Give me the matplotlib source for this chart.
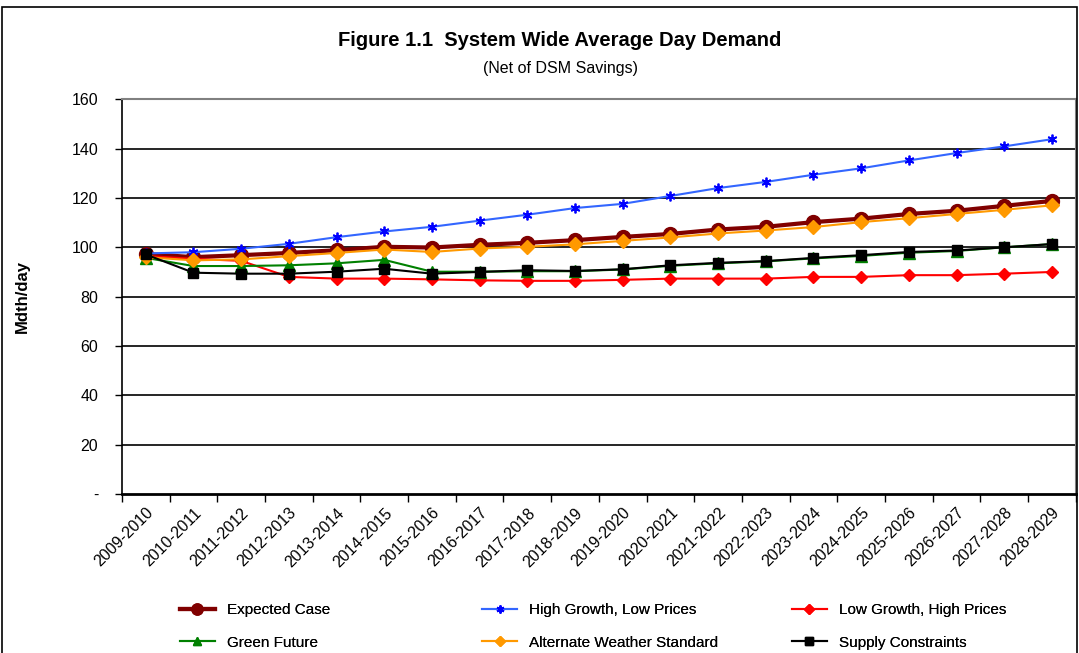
import matplotlib
matplotlib.use("Agg")
import matplotlib.pyplot as plt
import numpy as np
from matplotlib.patches import Rectangle

plt.rcParams['font.family'] = ['Liberation Sans', 'DejaVu Sans']

years = ["2009-2010", "2010-2011", "2011-2012", "2012-2013", "2013-2014", "2014-2015",
         "2015-2016", "2016-2017", "2017-2018", "2018-2019", "2019-2020", "2020-2021",
         "2021-2022", "2022-2023", "2023-2024", "2024-2025", "2025-2026", "2026-2027",
         "2027-2028", "2028-2029"]

expected = [97.3, 96.0, 96.8, 97.7, 98.8, 100.2, 99.9, 101.0, 101.8, 102.9,
            104.2, 105.4, 107.2, 108.3, 110.2, 111.6, 113.5, 114.8, 116.8, 118.8]
high_growth = [97.5, 98.0, 99.4, 101.4, 104.1, 106.4, 108.3, 110.8, 113.2, 115.9,
               117.6, 120.8, 124.0, 126.5, 129.4, 132.0, 135.2, 138.2, 140.9, 143.8]
low_growth = [96.5, 95.3, 94.5, 88.0, 87.3, 87.3, 87.0, 86.6, 86.4, 86.4,
              86.8, 87.3, 87.3, 87.3, 88.0, 88.0, 88.7, 88.7, 89.3, 90.0]
green_future = [95.7, 92.4, 92.4, 92.7, 93.5, 94.9, 90.1, 90.1, 90.3, 90.3,
                91.0, 92.5, 93.5, 94.3, 95.5, 96.5, 97.8, 98.5, 100.0, 101.3]
alt_weather = [96.0, 94.7, 95.1, 96.4, 97.7, 99.1, 98.1, 99.5, 100.2, 101.2,
               102.6, 104.0, 105.6, 106.8, 108.2, 110.2, 111.8, 113.5, 115.2, 117.0]
supply = [97.1, 89.7, 89.3, 89.3, 90.1, 91.3, 89.3, 90.0, 90.7, 90.4,
          91.1, 92.7, 93.7, 94.4, 95.7, 96.8, 98.1, 98.7, 100.0, 101.3]

fig = plt.figure(figsize=(10.79, 6.53), dpi=100)
ax = fig.add_axes([0.113, 0.2435, 0.884, 0.6045])

x = np.arange(len(years))
asterisk = (6, 2, 0)
h1, = ax.plot(x, expected, color="#800000", lw=3, marker="o", ms=10, label="Expected Case", zorder=3)
h2, = ax.plot(x, high_growth, color="#3366ff", lw=1.5, marker=asterisk, ms=7, mec="#0000ff",
              mew=1.3, label="High Growth, Low Prices", zorder=3)
h3, = ax.plot(x, low_growth, color="#ff0000", lw=1.5, marker="D", ms=6.5,
              label="Low Growth, High Prices", zorder=3)
h4, = ax.plot(x, green_future, color="#008000", lw=1.5, marker="^", ms=8, label="Green Future", zorder=3)
h5, = ax.plot(x, alt_weather, color="#ff9900", lw=1.5, marker="D", ms=7,
              label="Alternate Weather Standard", zorder=3)
h6, = ax.plot(x, supply, color="#000000", lw=1.5, marker="s", ms=7.5, label="Supply Constraints", zorder=3)

ax.set_xlim(-0.5, len(years) - 0.5)
ax.set_ylim(0, 160)
yt = np.arange(0, 161, 20)
ax.set_yticks(yt)
ax.set_yticklabels(["-"] + [str(v) for v in yt[1:]], fontsize=11.5)
for v in yt[1:-1]:
    ax.axhline(v, color="black", lw=1.2, zorder=1)

ax.set_xticks(x)
ax.set_xticklabels(years, rotation=45, ha="right", rotation_mode="anchor", fontsize=11.5)
ax.tick_params(axis="x", length=0, pad=8)
ax.set_xticks(np.arange(-0.5, len(years)), minor=True)
ax.tick_params(axis="x", which="minor", length=6, width=1)
ax.tick_params(axis="y", length=5, width=1, pad=12)

for s in ["top", "right"]:
    ax.spines[s].set_color("#808080")
    ax.spines[s].set_linewidth(1.5)
ax.spines["left"].set_linewidth(1.2)
ax.spines["bottom"].set_linewidth(2)

ax.set_ylabel("Mdth/day", fontsize=12, fontweight="bold", labelpad=30)

fig.text(0.519, 0.938, "Figure 1.1  System Wide Average Day Demand", ha="center", va="center",
         fontsize=14.5, fontweight="bold")
fig.text(0.519, 0.895, "(Net of DSM Savings)", ha="center", va="center", fontsize=11.5)

# one legend per column, positioned like the original
columns = [([h1, h4], 0.154), ([h2, h5], 0.434), ([h3, h6], 0.721)]
for handles, xpos in columns:
    leg = fig.legend(handles=handles, loc="lower left", bbox_to_anchor=(xpos, -0.016),
                     frameon=False, fontsize=11, handlelength=2.3, labelspacing=1.2,
                     markerscale=0.8)
    fig.add_artist(leg)

fig.add_artist(Rectangle((0.002, -0.01), 0.996, 1.0, transform=fig.transFigure,
                         fill=False, ec="black", lw=1.2))

fig.savefig("out.png", dpi=100)
